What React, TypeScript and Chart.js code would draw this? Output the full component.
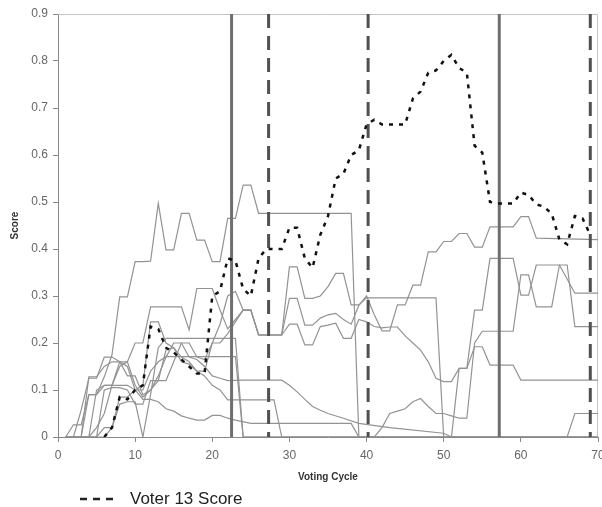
import React, { useEffect, useRef } from 'react';
import { Chart, registerables } from 'chart.js';

Chart.register(...registerables);

const FONT = "'Liberation Sans', Arial, sans-serif";

// Axis ranges / ticks
const xTickValues = [0, 10, 20, 30, 40, 50, 60, 70];
const yTickValues = [0, 0.1, 0.2, 0.3, 0.4, 0.5, 0.6, 0.7, 0.8, 0.9];

// Voting cycles where the vertical reference lines sit
const solidMarkerCycles = [22.5, 57.2];
const dashedMarkerCycles = [27.3, 40.2, 69.0];

const voter13Label = 'Voter 13 Score';

// Voter 13 score: [cycle, score]
const voter13Score: [number, number][] = [
  [6, 0], [7, 0.02], [8, 0.085], [9, 0.08], [10, 0.1], [11, 0.11], [12, 0.235], [13, 0.23],
  [14, 0.19], [15, 0.18], [16, 0.165], [17, 0.15], [18, 0.135], [19, 0.135], [20, 0.3],
  [21, 0.31], [22, 0.38], [23, 0.375], [24, 0.315], [25, 0.3], [26, 0.38], [27, 0.4],
  [28, 0.4], [29, 0.4], [30, 0.445], [31, 0.445], [32, 0.38], [33, 0.36], [34, 0.43],
  [35, 0.47], [36, 0.55], [37, 0.56], [38, 0.6], [39, 0.61], [40, 0.665], [41, 0.675],
  [42, 0.665], [43, 0.665], [44, 0.665], [45, 0.665], [46, 0.72], [47, 0.735], [48, 0.775],
  [49, 0.78], [50, 0.8], [51, 0.813], [52, 0.785], [53, 0.775], [54, 0.62], [55, 0.605],
  [56, 0.5], [57, 0.497], [58, 0.497], [59, 0.497], [60, 0.52], [61, 0.515], [62, 0.495],
  [63, 0.49], [64, 0.475], [65, 0.42], [66, 0.41], [67, 0.47], [68, 0.465], [69, 0.43],
];

// Other voters' scores (grey lines): [cycle, score]
const otherVoter1: [number, number][] = [
  [1, 0], [2, 0.026], [3, 0.026], [4, 0.09], [5, 0.09], [6, 0.128], [7, 0.175], [8, 0.298],
  [9, 0.298], [10, 0.373], [11, 0.373], [12, 0.374], [13, 0.497], [14, 0.398], [15, 0.398],
  [16, 0.476], [17, 0.476], [18, 0.419], [19, 0.419], [20, 0.373], [21, 0.373], [22, 0.465],
  [23, 0.465], [24, 0.536], [25, 0.536], [26, 0.476], [38, 0.476], [39, 0], [70, 0],
];
const otherVoter2: [number, number][] = [
  [1, 0], [3, 0], [4, 0.09], [5, 0.09], [6, 0.11], [7, 0.11], [8, 0.15], [9, 0.16], [10, 0.2],
  [11, 0.2], [12, 0.277], [16, 0.277], [17, 0.228], [18, 0.316], [20, 0.316], [21, 0.27],
  [22, 0.23], [23, 0.25], [24, 0.27], [25, 0.27], [26, 0.217], [29, 0.217], [30, 0.362],
  [31, 0.362], [32, 0.295], [33, 0.295], [34, 0.3], [35, 0.32], [36, 0.348], [37, 0.348],
  [38, 0.281], [39, 0.281], [40, 0.296], [49, 0.296], [50, 0], [51, 0], [52, 0.146],
  [53, 0.146], [54, 0.192], [55, 0.192], [56, 0.153], [59, 0.153], [60, 0.121], [70, 0.121],
];
const otherVoter3: [number, number][] = [
  [1, 0], [6, 0], [7, 0.02], [8, 0.085], [9, 0.085], [10, 0.1], [11, 0.11], [12, 0.245],
  [13, 0.245], [14, 0.2], [15, 0.19], [16, 0.17], [17, 0.16], [18, 0.14], [19, 0.14],
  [20, 0.2], [21, 0.24], [22, 0.3], [23, 0.31], [24, 0.27], [25, 0.27], [26, 0.217],
  [29, 0.217], [30, 0.295], [31, 0.295], [32, 0.238], [33, 0.238], [34, 0.253], [35, 0.26],
  [36, 0.263], [37, 0.25], [38, 0.24], [39, 0.28], [40, 0.3], [41, 0.26], [42, 0.226],
  [43, 0.226], [44, 0.281], [45, 0.281], [46, 0.323], [47, 0.323], [48, 0.394], [49, 0.394],
  [50, 0.416], [51, 0.416], [52, 0.433], [53, 0.433], [54, 0.404], [55, 0.404], [56, 0.447],
  [59, 0.447], [60, 0.469], [61, 0.469], [62, 0.423], [70, 0.42],
];
const otherVoter4: [number, number][] = [
  [1, 0], [2, 0], [3, 0.057], [4, 0.125], [5, 0.125], [6, 0.17], [7, 0.17], [8, 0.16],
  [9, 0.13], [10, 0.13], [11, 0.09], [12, 0.1], [13, 0.12], [14, 0.12], [15, 0.16], [16, 0.2],
  [17, 0.2], [18, 0.17], [19, 0.165], [20, 0.2], [21, 0.2], [22, 0.22], [23, 0.245],
  [24, 0.27], [25, 0.27], [26, 0.217], [29, 0.217], [30, 0.24], [31, 0.24], [32, 0.196],
  [33, 0.196], [34, 0.235], [35, 0.238], [36, 0.242], [37, 0.21], [38, 0.21], [39, 0.25],
  [40, 0.245], [41, 0.235], [42, 0.232], [43, 0.234], [44, 0.234], [45, 0.215], [46, 0.2],
  [47, 0.185], [48, 0.16], [49, 0.125], [50, 0.118], [51, 0.118], [52, 0.146], [53, 0.146],
  [54, 0.27], [55, 0.27], [56, 0.38], [59, 0.38], [60, 0.302], [61, 0.302], [62, 0.366],
  [65, 0.366], [66, 0.336], [67, 0.306], [70, 0.306],
];
const otherVoter5: [number, number][] = [
  [1, 0], [5, 0], [6, 0.1], [7, 0.105], [8, 0.105], [9, 0.1], [10, 0.07], [11, 0.07],
  [12, 0.12], [13, 0.12], [14, 0.185], [15, 0.19], [16, 0.16], [17, 0.155], [18, 0.14],
  [19, 0.13], [20, 0.11], [21, 0.1], [22, 0.079], [28, 0.079], [29, 0], [41, 0], [42, 0.02],
  [43, 0.05], [44, 0.055], [45, 0.06], [46, 0.075], [47, 0.082], [48, 0.065], [49, 0.05],
  [50, 0.05], [51, 0.045], [52, 0.04], [53, 0.04], [54, 0.2], [55, 0.225], [59, 0.225],
  [60, 0.345], [61, 0.345], [62, 0.277], [64, 0.277], [65, 0.366], [66, 0.366], [67, 0.235],
  [70, 0.235],
];
const otherVoter6: [number, number][] = [
  [1, 0], [5, 0], [6, 0.02], [7, 0.02], [8, 0.07], [9, 0.075], [10, 0.075], [11, 0],
  [12, 0.09], [13, 0.19], [14, 0.21], [23, 0.21], [24, 0], [70, 0],
];
const otherVoter7: [number, number][] = [
  [1, 0], [4, 0], [5, 0.02], [6, 0.05], [7, 0.11], [8, 0.11], [9, 0.11], [10, 0.1],
  [11, 0.1], [12, 0.14], [13, 0.16], [14, 0.171], [23, 0.171], [24, 0], [70, 0],
];
const otherVoter8: [number, number][] = [
  [1, 0], [3, 0], [4, 0.128], [5, 0.128], [6, 0.15], [7, 0.16], [8, 0.16], [9, 0.15],
  [10, 0.1], [11, 0.08], [12, 0.08], [13, 0.075], [14, 0.06], [15, 0.055], [16, 0.045],
  [17, 0.04], [18, 0.036], [19, 0.036], [20, 0.046], [21, 0.046], [22, 0.04], [23, 0.036],
  [25, 0.029], [38, 0.029], [39, 0], [70, 0],
];
const otherVoter9: [number, number][] = [
  [1, 0], [4, 0], [5, 0.1], [6, 0.11], [7, 0.11], [8, 0.16], [9, 0.16], [10, 0.11],
  [11, 0.085], [12, 0.1], [13, 0.13], [14, 0.17], [15, 0.2], [16, 0.2], [17, 0.17],
  [18, 0.165], [19, 0.15], [20, 0.13], [21, 0.125], [22, 0.12], [24, 0.121], [29, 0.121],
  [30, 0.11], [31, 0.096], [32, 0.08], [33, 0.065], [34, 0.057], [35, 0.05], [37, 0.04],
  [39, 0.029], [43, 0.02], [50, 0.008], [51, 0], [66, 0], [67, 0.05], [70, 0.05],
];

const otherVoters = [
  otherVoter1, otherVoter2, otherVoter3, otherVoter4, otherVoter5,
  otherVoter6, otherVoter7, otherVoter8, otherVoter9,
];

const toXY = (pts: [number, number][]) => pts.map(([x, y]) => ({ x, y }));

const yMin = yTickValues[0];
const yMax = yTickValues[yTickValues.length - 1];

const legendPlugin = {
  id: 'customLegendAndFrame',
  beforeDatasetsDraw(chart: any) {
    const { ctx, chartArea } = chart;
    ctx.save();
    ctx.strokeStyle = '#c4c4c4';
    ctx.lineWidth = 1;
    ctx.beginPath();
    ctx.moveTo(chartArea.left, chartArea.top + 0.5);
    ctx.lineTo(chartArea.right - 0.5, chartArea.top + 0.5);
    ctx.lineTo(chartArea.right - 0.5, chartArea.bottom);
    ctx.stroke();
    ctx.restore();
  },
  afterDraw(chart: any) {
    const { ctx, chartArea } = chart;
    const ds = chart.data.datasets[0];
    const y = chartArea.bottom + 62;
    const x0 = chartArea.left + 22;
    ctx.save();
    ctx.strokeStyle = '#222';
    ctx.lineWidth = 2.5;
    ctx.setLineDash([7, 6, 7, 6, 7, 100]);
    ctx.beginPath();
    ctx.moveTo(x0, y);
    ctx.lineTo(x0 + 33, y);
    ctx.stroke();
    ctx.setLineDash([]);
    ctx.fillStyle = '#222';
    ctx.font = `17px ${FONT}`;
    ctx.textBaseline = 'middle';
    ctx.textAlign = 'left';
    ctx.fillText(ds.label, x0 + 50, y);
    ctx.restore();
  },
};

export default function App() {
  const ref = useRef<HTMLCanvasElement>(null);

  useEffect(() => {
    const canvas = ref.current;
    if (!canvas) return;

    const datasets: any[] = [];
    datasets.push({
      label: voter13Label,
      data: toXY(voter13Score),
      borderColor: '#111111',
      borderWidth: 2.5,
      borderDash: [4, 6],
      pointRadius: 0,
      tension: 0,
      fill: false,
    });
    solidMarkerCycles.forEach((c) => {
      datasets.push({
        label: 'marker',
        data: [{ x: c, y: yMax }, { x: c, y: yMin }],
        borderColor: '#6f6f6f',
        borderWidth: 3,
        pointRadius: 0,
      });
    });
    dashedMarkerCycles.forEach((c) => {
      datasets.push({
        label: 'marker',
        data: [{ x: c, y: yMax }, { x: c, y: yMin }],
        borderColor: '#505050',
        borderWidth: 3,
        borderDash: [14, 8],
        pointRadius: 0,
      });
    });
    otherVoters.forEach((v, i) => {
      datasets.push({
        label: `Voter ${i + 1}`,
        data: toXY(v),
        borderColor: '#939393',
        borderWidth: 1.2,
        pointRadius: 0,
        tension: 0,
      });
    });

    const tickFont = { family: FONT, size: 12 };
    const titleFont = { family: FONT, size: 10, weight: 'bold' as const };

    const chart = new Chart(canvas, {
      type: 'line',
      data: { datasets },
      plugins: [legendPlugin],
      options: {
        animation: false,
        responsive: false,
        devicePixelRatio: 1,
        layout: { padding: { left: 0, top: 14, right: 4, bottom: 24 } },
        plugins: {
          legend: { display: false },
          tooltip: { enabled: false },
        },
        scales: {
          x: {
            type: 'linear',
            min: xTickValues[0],
            max: xTickValues[xTickValues.length - 1],
            afterBuildTicks: (s: any) => { s.ticks = xTickValues.map((v) => ({ value: v })); },
            afterFit: (s: any) => { s.height = 46; s.paddingLeft = 0; s.paddingRight = 0; },
            ticks: { color: '#666', font: tickFont, padding: 6, maxRotation: 0, autoSkip: false },
            grid: { drawOnChartArea: false, drawTicks: true, tickLength: 5, color: '#888' },
            border: { display: true, color: '#888', width: 1 },
            title: { display: true, text: 'Voting Cycle', font: titleFont, color: '#333', padding: { top: 0, bottom: 0 } },
          },
          y: {
            type: 'linear',
            min: yMin,
            max: yMax,
            afterBuildTicks: (s: any) => { s.ticks = yTickValues.map((v) => ({ value: v })); },
            afterFit: (s: any) => { s.width = 58; },
            ticks: { color: '#666', font: tickFont, padding: 5 },
            grid: { drawOnChartArea: false, drawTicks: true, tickLength: 5, color: '#888' },
            border: { display: true, color: '#888', width: 1 },
            title: { display: true, text: 'Score', font: titleFont, color: '#333', padding: { top: 9, bottom: 0 } },
          },
        },
      } as any,
    });

    return () => chart.destroy();
  }, []);

  return (
    <div style={{ position: 'fixed', left: 0, top: 0, width: 602, height: 507, background: '#fff' }}>
      <canvas ref={ref} width={602} height={507} style={{ display: 'block', width: '602px', height: '507px' }} />
    </div>
  );
}
